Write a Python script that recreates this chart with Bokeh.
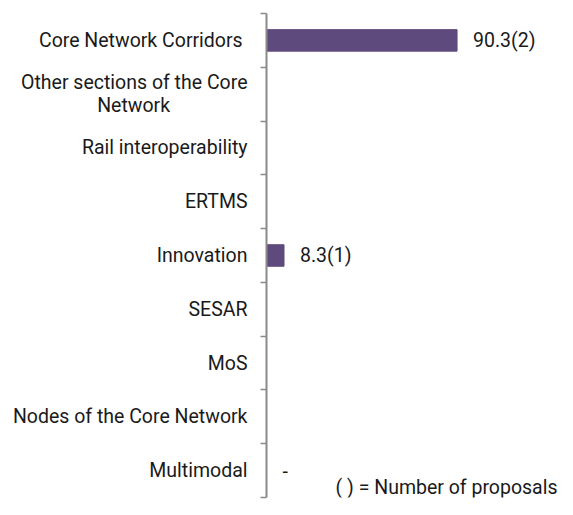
from bokeh.plotting import figure
from bokeh.models import Range1d, FixedTicker, Label, ColumnDataSource
from bokeh.core.properties import value
from bokeh.embed import file_html
from bokeh.resources import INLINE

NB = "\u00a0"
categories = ["Core Network Corridors" + NB,
              "Other sections of the Core\nNetwork" + NB * 16,
              "Rail interoperability", "ERTMS", "Innovation", "SESAR", "MoS",
              "Nodes of the Core Network", "Multimodal"]
values = [90.3, 0, 0, 0, 8.3, 0, 0, 0, 0]
proposals = [2, 0, 0, 0, 1, 0, 0, 0, 0]
shown_labels = ["90.3(2)", "", "", "", "8.3(1)", "", "", "", "-"]

FONT = "Roboto"
FS = "19.5px"
XMAX = 137.9
n = len(categories)
ys = [n - i - 0.5 for i in range(n)]

p = figure(width=557, height=499, output_backend="svg", toolbar_location=None,
           x_range=Range1d(0, XMAX), y_range=Range1d(0, n),
           min_border_left=266, min_border_right=0, min_border_top=13,
           min_border_bottom=2)
p.outline_line_color = None
p.grid.visible = False
p.xaxis.visible = False

src = ColumnDataSource(dict(y=ys, v=values, lab=shown_labels))
p.hbar(y="y", right="v", left=0, height=0.4, source=src,
       fill_color="#5E4A7D", line_color="#5E4A7D")
p.text(x="v", y="y", text="lab", source=src, x_offset=16,
       text_baseline="middle", text_align="left", text_font=value(FONT),
       text_font_size=FS, text_color="#1a1a1a")

yaxis = p.yaxis[0]
yaxis.ticker = FixedTicker(ticks=ys, minor_ticks=list(range(n + 1)))
yaxis.major_label_overrides = {y: c for y, c in zip(ys, categories)}
yaxis.major_tick_line_color = None
yaxis.minor_tick_out = 6
yaxis.minor_tick_in = 0
yaxis.minor_tick_line_color = "#8a8a8a"
yaxis.minor_tick_line_width = 1.5
yaxis.axis_line_color = "#8a8a8a"
yaxis.axis_line_width = 2
yaxis.major_label_text_font = FONT
yaxis.major_label_text_font_size = FS
yaxis.major_label_text_color = "#1a1a1a"
yaxis.major_label_text_line_height = 1.0
yaxis.major_label_standoff = 13

p.add_layout(Label(x=XMAX, y=-0.03, text="( ) = Number of proposals",
                   text_align="right", text_baseline="bottom",
                   text_font=FONT, text_font_size=FS, text_color="#1a1a1a"))

open("out.html", "w").write(file_html(p, INLINE))
